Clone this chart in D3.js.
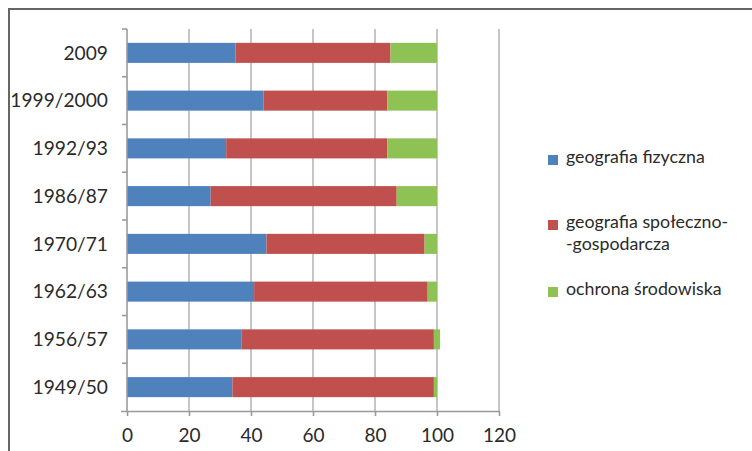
<!DOCTYPE html>
<html>
<head>
<meta charset="utf-8">
<script src="https://cdn.jsdelivr.net/npm/d3@7"></script>
<style>
  html, body { margin: 0; padding: 0; background: #fff; }
  svg { display: block; }
  text { font-family: Lato, "Open Sans", sans-serif; fill: #2a2a2a; }
</style>
</head>
<body>
<svg id="chart" width="752" height="451"></svg>
<script>
// Study periods, listed bottom to top as on the axis
const categories = ["1949/50", "1956/57", "1962/63", "1970/71", "1986/87", "1992/93", "1999/2000", "2009"];
// Share of each field (%) per period
const fizyczna   = [34, 37, 41, 45, 27, 32, 44, 35];
const spoleczna  = [65, 62, 56, 51, 60, 52, 40, 50];
const srodowisko = [1, 2, 3, 4, 13, 16, 16, 15];
const seriesNames = ["geografia fizyczna", "geografia społeczno-\n-gospodarcza", "ochrona środowiska"];
const seriesColors = ["#4f81bd", "#c0504d", "#8fc255"];
const xTicks = [0, 20, 40, 60, 80, 100, 120];

const svg = d3.select("#chart");

// outer frame (continues beyond the right and bottom edges)
svg.append("path")
  .attr("d", "M9,460 V9 H760")
  .attr("fill", "none")
  .attr("stroke", "#666")
  .attr("stroke-width", 2);

const x = d3.scaleLinear().domain([0, 120]).range([127, 499]);
const y = d3.scaleBand()
  .domain(categories.slice().reverse())
  .range([29, 411])
  .paddingInner(0.58)
  .paddingOuter(0.29);

const table = categories.map((c, i) => ({ cat: c, s0: fizyczna[i], s1: spoleczna[i], s2: srodowisko[i] }));
const stacked = d3.stack().keys(["s0", "s1", "s2"])(table);

// vertical gridlines
svg.append("g")
  .selectAll("line")
  .data(xTicks.slice(1))
  .join("line")
  .attr("x1", d => x(d)).attr("x2", d => x(d))
  .attr("y1", 29).attr("y2", 411)
  .attr("stroke", "#b8b8b8")
  .attr("stroke-width", 1.6);

// bars
svg.append("g")
  .selectAll("g")
  .data(stacked)
  .join("g")
  .attr("fill", (d, i) => seriesColors[i])
  .selectAll("rect")
  .data(d => d)
  .join("rect")
  .attr("x", d => x(d[0]))
  .attr("width", d => x(d[1]) - x(d[0]))
  .attr("y", d => y(d.data.cat))
  .attr("height", y.bandwidth());

// x axis
const xAxis = svg.append("g")
  .attr("transform", "translate(0,411)")
  .call(d3.axisBottom(x).tickValues(xTicks).tickSizeInner(5).tickSizeOuter(0).tickPadding(13));
xAxis.select(".domain").attr("stroke", "#9a9a9a").attr("stroke-width", 1.6)
  .attr("d", `M${x(0) - 6},0.5H${x(120)}`);
xAxis.selectAll(".tick line").attr("stroke", "#9a9a9a").attr("stroke-width", 1.6);
xAxis.selectAll(".tick text")
  .attr("fill", "#2a2a2a")
  .style("font-size", "19px")
  .style("font-family", "Lato, sans-serif");

// y axis: ticks sit on category boundaries
const yAxis = svg.append("g").attr("transform", `translate(${x(0)},0)`);
yAxis.append("line")
  .attr("x1", 0).attr("x2", 0).attr("y1", 29).attr("y2", 411)
  .attr("stroke", "#9a9a9a").attr("stroke-width", 1.6);
yAxis.selectAll(".yt")
  .data(d3.range(categories.length))
  .join("line")
  .attr("class", "yt")
  .attr("x1", -5).attr("x2", 0)
  .attr("y1", i => 29 + i * (382 / categories.length))
  .attr("y2", i => 29 + i * (382 / categories.length))
  .attr("stroke", "#9a9a9a").attr("stroke-width", 1.6);
svg.append("g")
  .selectAll("text")
  .data(categories)
  .join("text")
  .attr("x", 108)
  .attr("y", d => y(d) + y.bandwidth() / 2)
  .attr("dy", "0.35em")
  .attr("text-anchor", "end")
  .style("font-size", "19.2px")
  .text(d => d);

// legend
const legendY = [163, 228, 295];
const legend = svg.append("g");
seriesNames.forEach((name, i) => {
  legend.append("rect")
    .attr("x", 548).attr("y", legendY[i] - 8)
    .attr("width", 10).attr("height", 10)
    .attr("fill", seriesColors[i]);
  const t = legend.append("text")
    .attr("x", 566).attr("y", legendY[i])
    .style("font-size", "17.8px");
  name.split("\n").forEach((line, j) => {
    t.append("tspan").attr("x", 566).attr("dy", j === 0 ? 0 : 22).text(line);
  });
});
</script>
</body>
</html>
